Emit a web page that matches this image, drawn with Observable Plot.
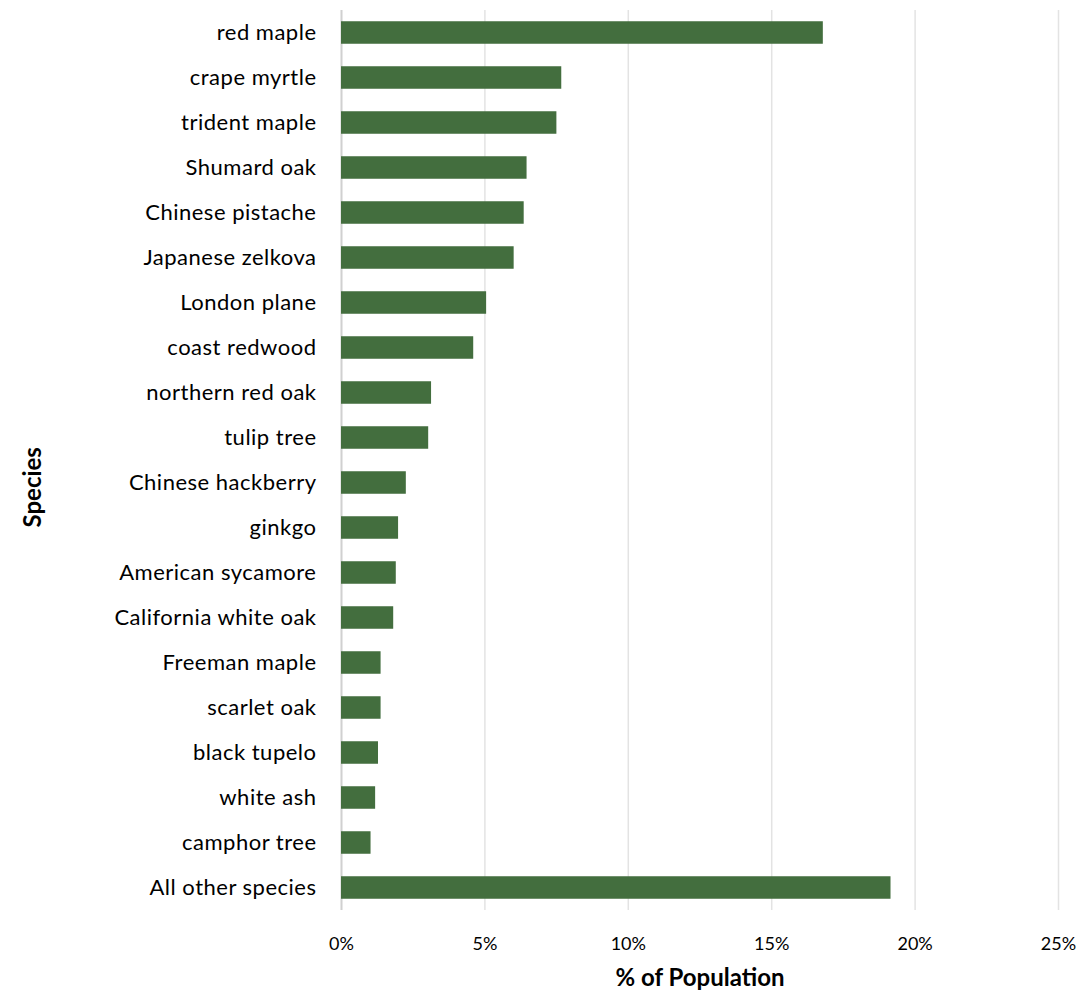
<!DOCTYPE html>
<html>
<head>
<meta charset="utf-8">
<script src="https://cdn.jsdelivr.net/npm/d3@7"></script>
<script src="https://cdn.jsdelivr.net/npm/@observablehq/plot@0.6"></script>
<style>
  html, body { margin: 0; padding: 0; background: #fff; }
  #chart svg { display: block; }
  #chart svg g[aria-label="y-axis tick label"] text { letter-spacing: 0.5px; }
</style>
</head>
<body>
<div id="chart"></div>
<script>
const species = [
  "red maple", "crape myrtle", "trident maple", "Shumard oak", "Chinese pistache",
  "Japanese zelkova", "London plane", "coast redwood", "northern red oak", "tulip tree",
  "Chinese hackberry", "ginkgo", "American sycamore", "California white oak", "Freeman maple",
  "scarlet oak", "black tupelo", "white ash", "camphor tree", "All other species"
];
const shares = [
  16.8, 7.68, 7.51, 6.47, 6.37,
  6.02, 5.06, 4.61, 3.14, 3.04,
  2.26, 1.99, 1.91, 1.82, 1.38,
  1.38, 1.29, 1.19, 1.03, 19.16
];
const xTicks = [0, 5, 10, 15, 20, 25];
const xTitle = "% of Population";
const yTitle = "Species";

const data = species.map((s, i) => ({species: s, value: shares[i]}));
const font = "Lato, 'Open Sans', sans-serif";

const chart = Plot.plot({
  width: 1078,
  height: 994,
  marginLeft: 341,
  marginRight: 20,
  marginTop: 10,
  marginBottom: 84,
  style: {fontFamily: font, fontSize: "20px", color: "#000", background: "#fff"},
  x: {domain: [0, 25], ticks: xTicks},
  y: {domain: species, paddingInner: 0.5, paddingOuter: 0.25, round: false},
  marks: [
    Plot.gridX(xTicks.filter(d => d > 0), {stroke: "#e3e3e3", strokeOpacity: 1, strokeWidth: 1.5}),
    Plot.ruleX([0], {stroke: "#d0d0d0", strokeWidth: 2}),
    Plot.barX(data, {x: "value", y: "species", fill: "#436e3e"}),
    Plot.axisY({tickSize: 0, tickPadding: 25, label: null, fontSize: 22, textAnchor: "end"}),
    Plot.axisX({ticks: xTicks, tickSize: 0, tickPadding: 27, label: null, fontSize: 18,
                tickFormat: d => d + "%"}),
    Plot.text([xTitle], {frameAnchor: "bottom", dy: 75, fontSize: 24, fontWeight: "bold"}),
    Plot.text([yTitle], {frameAnchor: "left", dx: -308, dy: 67, rotate: -90, fontSize: 24, fontWeight: "bold"})
  ]
});
document.getElementById("chart").appendChild(chart);
</script>
</body>
</html>
